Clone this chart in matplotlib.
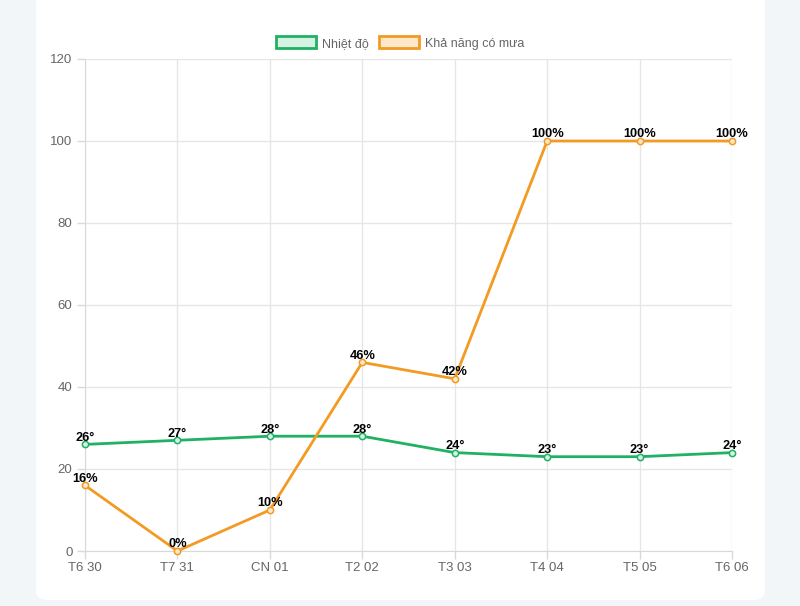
import matplotlib.pyplot as plt
from matplotlib.patches import FancyBboxPatch, Patch

days = ['T6 30', 'T7 31', 'CN 01', 'T2 02', 'T3 03', 'T4 04', 'T5 05', 'T6 06']
temp = [26, 27, 28, 28, 24, 23, 23, 24]
rain = [16, 0, 10, 46, 42, 100, 100, 100]

green = '#1fb164'
orange = '#f29a22'

plt.rcParams['font.family'] = ['Liberation Sans', 'DejaVu Sans']

fig = plt.figure(figsize=(8, 6.06), dpi=100)
fig.patch.set_facecolor('#f3f6f8')
card = FancyBboxPatch((36 / 800, 6 / 606), 729 / 800, 640 / 606,
                      boxstyle='round,pad=0,rounding_size=0.015',
                      transform=fig.transFigure, facecolor='white',
                      edgecolor='none', zorder=-10)
fig.patches.append(card)

ax = fig.add_axes([85 / 800, 1 - 551 / 606, 647 / 800, 492 / 606])
ax.set_facecolor('none')
ax.set_zorder(5)
x = list(range(len(days)))

ax.plot(x, temp, color=green, lw=2.0, marker='o', ms=4.5,
        mfc='#d6f2e3', mec=green, mew=1.1, zorder=3, clip_on=False)
ax.plot(x, rain, color=orange, lw=2.0, marker='o', ms=4.5,
        mfc='#fde8cc', mec=orange, mew=1.1, zorder=3, clip_on=False)

for xi, v in zip(x, temp):
    ax.annotate(f'{v}°', (xi, v), xytext=(0, 0.5), textcoords='offset points',
                ha='center', va='bottom', fontsize=9.2, fontweight='bold', color='black', zorder=4)
for xi, v in zip(x, rain):
    ax.annotate(f'{v}%', (xi, v), xytext=(0, 0.5), textcoords='offset points',
                ha='center', va='bottom', fontsize=9.2, fontweight='bold', color='black', zorder=4)

ax.set_xlim(0, len(days) - 1)
ax.set_ylim(0, 120)
ax.set_yticks(range(0, 121, 20))
ax.set_xticks(x)
ax.set_xticklabels(days)
ax.grid(True, color='#e6e6e6', lw=1)
ax.set_axisbelow(True)
for s in ['top', 'right']:
    ax.spines[s].set_visible(False)
ax.spines['left'].set_color('#d9d9d9')
ax.spines['bottom'].set_color('#d9d9d9')
ax.tick_params(axis='both', colors='#d9d9d9', labelcolor='#666666',
               labelsize=9.5, length=6, width=1)
ax.tick_params(axis='x', pad=2)
ax.tick_params(axis='y', pad=3)

handles = [Patch(facecolor='#d6f2e3', edgecolor=green, lw=2, label='Nhiệt độ'),
           Patch(facecolor='#fde8cc', edgecolor=orange, lw=2, label='Khả năng có mưa')]
fig.legend(handles=handles, loc='center', bbox_to_anchor=(0.5, 1 - 43 / 606),
           ncol=2, frameon=False, fontsize=9, labelcolor='#666666',
           handlelength=3.2, handleheight=1.1, handletextpad=0.5, columnspacing=0.8)

fig.savefig('out.png', dpi=100, facecolor=fig.get_facecolor())
